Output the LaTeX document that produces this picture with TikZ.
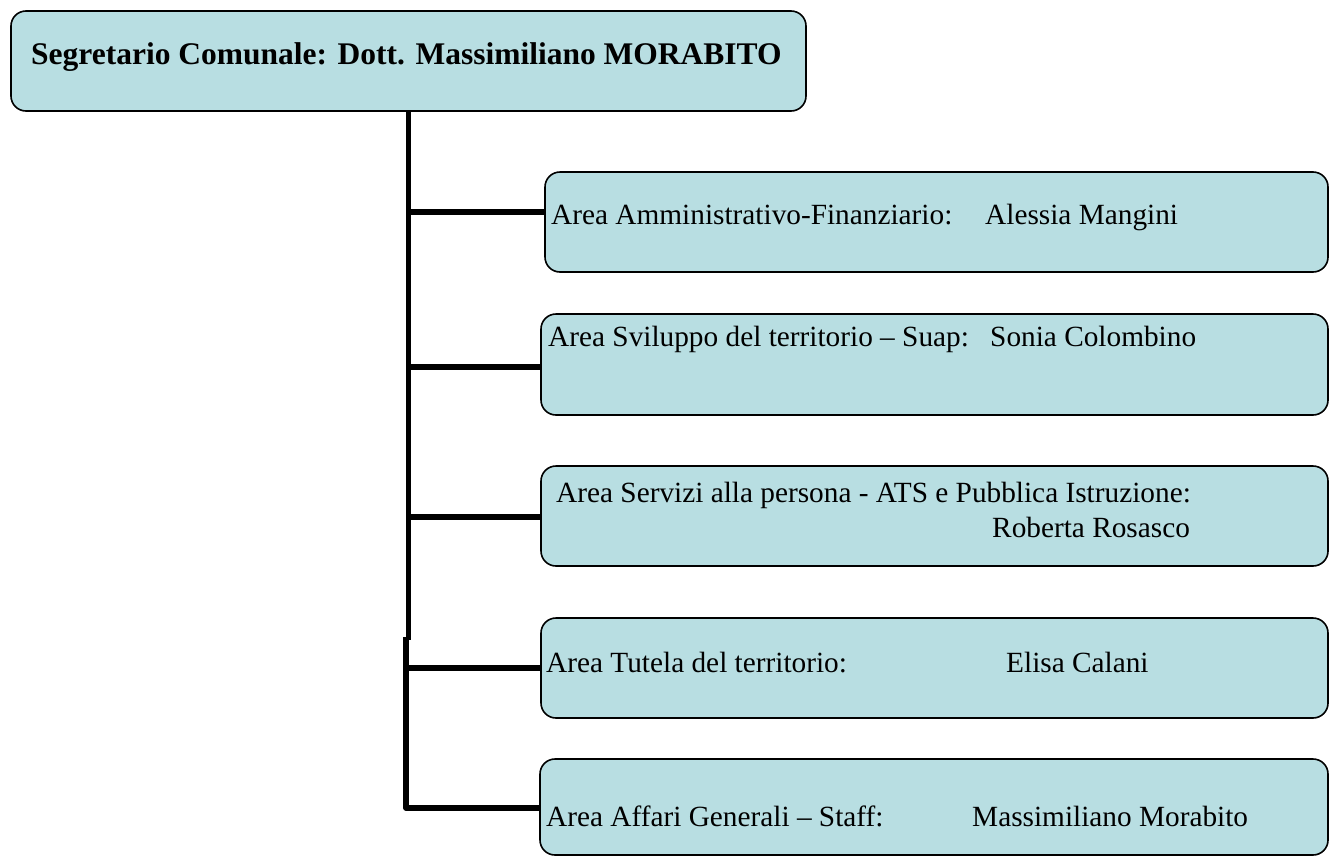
\documentclass[tikz,border=0pt]{standalone}
\usepackage{fontspec}
\setmainfont{Liberation Serif}
\definecolor{boxfill}{RGB}{184,222,226}
\begin{document}
\begin{tikzpicture}[x=1pt,y=-1pt,
  box/.style={draw=black,line width=1.6pt,fill=boxfill,rounded corners=15pt,inner sep=0pt},
  lbl/.style={anchor=base west,inner sep=0pt,font=\fontsize{29.3}{34}\selectfont},
  conn/.style={line width=5.5pt}]
\useasboundingbox (0,0) rectangle (1329,857);
% boxes
\path[box] (11,11) rectangle (806,111);
\path[box] (545,172) rectangle (1328,272);
\path[box] (541,314) rectangle (1328,415);
\path[box] (541,466) rectangle (1328,566);
\path[box] (541,618) rectangle (1328,718);
\path[box] (540,759) rectangle (1328,855);
\coordinate (b1) at (545,212);
\coordinate (b2) at (541,367);
\coordinate (b3) at (541,517);
\coordinate (b4) at (541,668);
\coordinate (b5) at (540,808);
% texts
\node[lbl,font=\fontsize{31.5}{36}\selectfont\bfseries] (tt) at (31,64) {Segretario Comunale: Dott. Massimiliano MORABITO};
\node[lbl] (t1) at (551,224) {Area Amministrativo-Finanziario:};
\node[lbl] (n1) at (985,224) {Alessia Mangini};
\node[lbl] (t2) at (548,346) {Area Sviluppo del territorio -- Suap:};
\node[lbl] (n2) at (990,346) {Sonia Colombino};
\node[lbl] (t3) at (556,502) {Area Servizi alla persona - ATS e Pubblica Istruzione:};
\node[lbl] (n3) at (992,537) {Roberta Rosasco};
\node[lbl] (t4) at (546,672) {Area Tutela del territorio:};
\node[lbl] (n4) at (1006,672) {Elisa Calani};
\node[lbl] (t5) at (546,826) {Area Affari Generali -- Staff:};
\node[lbl] (n5) at (972,826) {Massimiliano Morabito};
% trunk
\coordinate (s0) at (408.5,111);
\coordinate (s1) at (408.5,640);
\coordinate (s2) at (406,637);
\coordinate (s3) at (406,808);
\draw[conn] (s0) -- (s1);
\draw[conn,line join=round] (s2) -- (s3) -- (b5);
\draw[conn] (s0 |- b1) -- (b1);
\draw[conn] (s0 |- b2) -- (b2);
\draw[conn] (s0 |- b3) -- (b3);
\draw[conn] (s3 |- b4) -- (b4);
\end{tikzpicture}
\end{document}
